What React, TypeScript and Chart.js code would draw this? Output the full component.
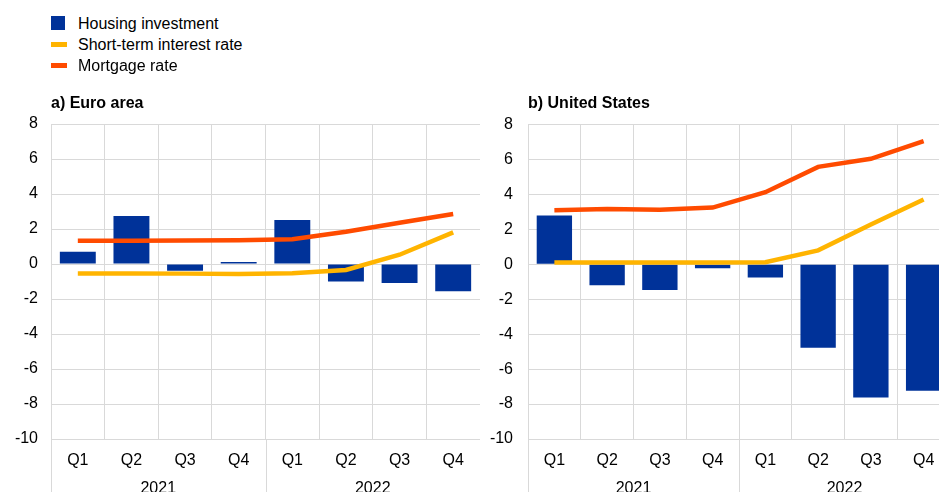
import React, { useEffect, useRef } from 'react';
import { Chart, registerables } from 'chart.js';

Chart.register(...registerables);

const quarters = ['Q1', 'Q2', 'Q3', 'Q4', 'Q1', 'Q2', 'Q3', 'Q4'];
const years = ['2021', '2022'];
const yMin = -10;
const yMax = 8;
const yStep = 2;

const euroHousing = [0.7, 2.75, -0.38, 0.12, 2.52, -1.0, -1.09, -1.56];
const euroShortRate = [-0.54, -0.54, -0.55, -0.57, -0.53, -0.34, 0.53, 1.81];
const euroMortgage = [1.33, 1.33, 1.34, 1.36, 1.42, 1.84, 2.36, 2.86];

const usHousing = [2.8, -1.2, -1.47, -0.23, -0.76, -4.78, -7.62, -7.24];
const usShortRate = [0.1, 0.1, 0.1, 0.1, 0.12, 0.8, 2.28, 3.71];
const usMortgage = [3.1, 3.17, 3.12, 3.25, 4.13, 5.58, 6.04, 7.05];

const FONT = '"Liberation Sans", Arial, Helvetica, sans-serif';
const BLUE = '#003299';
const YELLOW = '#FFB400';
const ORANGE = '#FF4B00';
const GRID = '#d9d9d9';
const TEXT = '#000000';

const separatorPlugin = {
  id: 'yearSeparators',
  afterDraw(chart: any) {
    const x2 = chart.scales.x2;
    const area = chart.chartArea;
    const ctx = chart.ctx;
    ctx.save();
    ctx.strokeStyle = GRID;
    ctx.lineWidth = 1;
    for (let i = 0; i <= years.length; i++) {
      const px = Math.round(x2.getPixelForValue(i - 0.5)) + 0.5;
      ctx.beginPath();
      ctx.moveTo(px, area.bottom);
      ctx.lineTo(px, chart.height);
      ctx.stroke();
    }
    ctx.restore();
  },
};

function makeConfig(housing: number[], shortRate: number[], mortgage: number[], yWidth: number, yPad: number): any {
  const font = { family: FONT, size: 16 };
  return {
    type: 'bar',
    data: {
      labels: quarters,
      datasets: [
        {
          type: 'line',
          label: 'Mortgage rate',
          data: mortgage,
          borderColor: ORANGE,
          backgroundColor: ORANGE,
          borderWidth: 4.5,
          pointRadius: 0,
          tension: 0,
          fill: false,
          order: 0,
        },
        {
          type: 'line',
          label: 'Short-term interest rate',
          data: shortRate,
          borderColor: YELLOW,
          backgroundColor: YELLOW,
          borderWidth: 4.5,
          pointRadius: 0,
          tension: 0,
          fill: false,
          order: 1,
        },
        {
          type: 'bar',
          label: 'Housing investment',
          data: housing,
          backgroundColor: BLUE,
          borderWidth: 0,
          barPercentage: 0.67,
          categoryPercentage: 1,
          order: 2,
        },
      ],
    },
    options: {
      animation: false,
      responsive: false,
      layout: { padding: { top: 24, bottom: 1, left: 0, right: 0 } },
      plugins: { legend: { display: false }, tooltip: { enabled: false }, title: { display: false } },
      scales: {
        x: {
          type: 'category',
          position: 'bottom',
          offset: true,
          weight: 0,
          grid: { offset: true, color: GRID, drawTicks: false, lineWidth: 1 },
          border: { color: GRID },
          ticks: { padding: 12, color: TEXT, font, maxRotation: 0, autoSkip: false },
          afterFit: (s: any) => { s.height = 30; },
        },
        x2: {
          type: 'category',
          labels: years,
          position: 'bottom',
          offset: true,
          weight: 1,
          grid: { display: false },
          border: { display: false },
          ticks: { padding: 2, color: TEXT, font, maxRotation: 0, autoSkip: false },
          afterFit: (s: any) => { s.height = 30; },
        },
        y: {
          min: yMin,
          max: yMax,
          ticks: { stepSize: yStep, padding: yPad, color: TEXT, font },
          grid: { color: GRID, drawTicks: false, lineWidth: 1 },
          border: { color: GRID },
          afterFit: (s: any) => { s.width = yWidth; },
        },
      },
    },
    plugins: [separatorPlugin],
  };
}

function Panel(props: { housing: number[]; shortRate: number[]; mortgage: number[]; left: number; width: number; yWidth: number; yPad: number }) {
  const ref = useRef<HTMLCanvasElement | null>(null);
  useEffect(() => {
    if (!ref.current) return;
    const chart = new Chart(ref.current, makeConfig(props.housing, props.shortRate, props.mortgage, props.yWidth, props.yPad));
    return () => chart.destroy();
  }, []);
  return (
    <canvas
      ref={ref}
      width={props.width}
      height={400}
      style={{ position: 'absolute', left: props.left, top: 100, width: props.width, height: 400 }}
    />
  );
}

const legendItems = [
  { label: 'Housing investment', color: BLUE, kind: 'box' },
  { label: 'Short-term interest rate', color: YELLOW, kind: 'line' },
  { label: 'Mortgage rate', color: ORANGE, kind: 'line' },
];

export default function App() {
  const textStyle: React.CSSProperties = { fontFamily: FONT, fontSize: 16, lineHeight: '21px', color: TEXT, whiteSpace: 'nowrap' };
  return (
    <div style={{ position: 'fixed', left: 0, top: 0, width: 939, height: 492, overflow: 'hidden', background: '#fff' }}>
      <Panel housing={euroHousing} shortRate={euroShortRate} mortgage={euroMortgage} left={0} width={480} yWidth={51} yPad={13} />
      <Panel housing={usHousing} shortRate={usShortRate} mortgage={usMortgage} left={480} width={470} yWidth={48} yPad={15} />
      {legendItems.map((it, i) => (
        <div key={it.label} style={{ position: 'absolute', left: 0, top: 13 + i * 21, height: 21, width: 400 }}>
          <div
            style={{
              position: 'absolute',
              left: 51,
              top: it.kind === 'box' ? 3 : 7.5,
              width: it.kind === 'box' ? 14 : 16,
              height: it.kind === 'box' ? 14 : 5.5,
              background: it.color,
            }}
          />
          <div style={{ ...textStyle, position: 'absolute', left: 78, top: 0 }}>{it.label}</div>
        </div>
      ))}
      <div style={{ ...textStyle, position: 'absolute', left: 51, top: 92, fontWeight: 'bold' }}>a) Euro area</div>
      <div style={{ ...textStyle, position: 'absolute', left: 528, top: 92, fontWeight: 'bold' }}>b) United States</div>
    </div>
  );
}
